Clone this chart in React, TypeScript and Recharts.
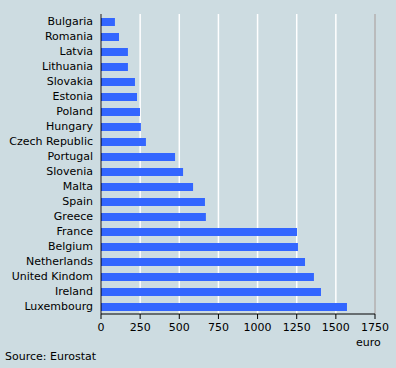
import React from "react";
import {
  BarChart,
  Bar,
  XAxis,
  YAxis,
  CartesianGrid,
  ReferenceLine,
} from "recharts";

const countries = [
  "Bulgaria",
  "Romania",
  "Latvia",
  "Lithuania",
  "Slovakia",
  "Estonia",
  "Poland",
  "Hungary",
  "Czech Republic",
  "Portugal",
  "Slovenia",
  "Malta",
  "Spain",
  "Greece",
  "France",
  "Belgium",
  "Netherlands",
  "United Kindom",
  "Ireland",
  "Luxembourg",
];

const values = [
  89, 115, 172, 172, 217, 230, 249, 255, 287, 473, 524, 588, 664, 670, 1252,
  1258, 1303, 1360, 1405, 1571,
];

const xTicks = [0, 250, 500, 750, 1000, 1250, 1500, 1750];

const font = "'DejaVu Sans', Verdana, sans-serif";

// eigene Tick-Darstellung, damit lange Namen nicht umbrechen
const CountryTick = (props: any) => {
  const { x, y, payload } = props;
  return (
    <text
      x={x - 6}
      y={y}
      dy="0.355em"
      textAnchor="end"
      fill="#000000"
      fontSize={11}
      fontFamily={font}
    >
      {payload.value}
    </text>
  );
};

const App: React.FC = () => {
  const data = countries.map((country, i) => ({ country, value: values[i] }));

  return (
    <div
      style={{
        position: "absolute",
        left: 0,
        top: 0,
        width: 396,
        height: 368,
        background: "#cddce1",
        fontFamily: font,
      }}
    >
      <BarChart
        width={396}
        height={368}
        data={data}
        layout="vertical"
        barCategoryGap={0}
        margin={{ top: 14, right: 21, left: 0, bottom: 24 }}
      >
        <CartesianGrid horizontal={false} stroke="#ffffff" strokeWidth={1.5} />
        <XAxis
          type="number"
          domain={[0, 1750]}
          ticks={xTicks}
          interval={0}
          height={30}
          tickSize={5}
          tickMargin={4}
          stroke="#000000"
          tick={{ fill: "#000000", fontSize: 11, fontFamily: font }}
        />
        <XAxis
          xAxisId="top"
          orientation="top"
          type="number"
          domain={[0, 1750]}
          height={0}
          tick={false}
          tickLine={false}
          stroke="#808080"
        />
        <YAxis
          type="category"
          dataKey="country"
          width={101}
          tickSize={0}
          interval={0}
          stroke="#000000"
          tick={<CountryTick />}
        />
        <ReferenceLine x={1750} stroke="#808080" />
        <Bar
          dataKey="value"
          fill="#3366ff"
          barSize={8}
          isAnimationActive={false}
        />
      </BarChart>
      <div
        style={{
          position: "absolute",
          left: 356,
          top: 336,
          fontSize: 11,
          color: "#000",
        }}
      >
        euro
      </div>
      <div
        style={{
          position: "absolute",
          left: 5,
          top: 350,
          fontSize: 11,
          color: "#000",
        }}
      >
        Source: Eurostat
      </div>
    </div>
  );
};

export default App;
